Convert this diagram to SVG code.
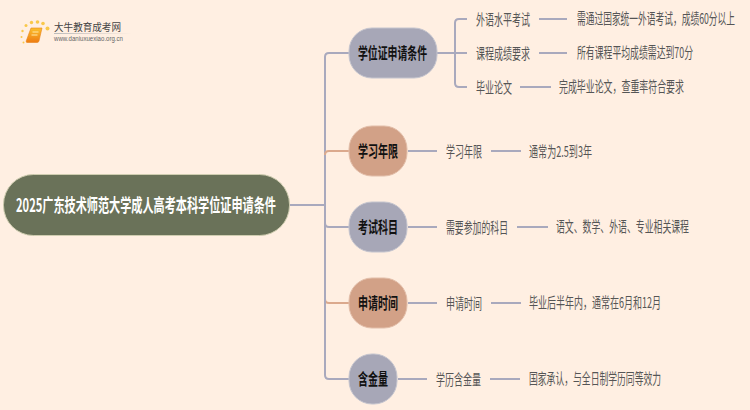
<svg xmlns="http://www.w3.org/2000/svg" width="750" height="410" viewBox="0 0 750 410">
<defs>
<linearGradient id="bk" x1="0" y1="0" x2="0" y2="1"><stop offset="0" stop-color="#FBC02D"/><stop offset="1" stop-color="#EE7B12"/></linearGradient>
<linearGradient id="ul" x1="0" y1="0" x2="1" y2="0"><stop offset="0" stop-color="#bbb"/><stop offset="1" stop-color="#bbb" stop-opacity="0"/></linearGradient>
</defs>
<style>
text{font-family:"Noto Sans CJK SC","Liberation Sans",sans-serif;dominant-baseline:central}
.n{stroke-width:1}
.g{fill:#A7A7B7;stroke:#C4C4CE}
.o{fill:#D2A187;stroke:#E2BDA8}
.t{font-size:16px;font-weight:700;fill:#111}
.l{font-size:15px;fill:#555}
.c{fill:none;stroke:#A9A9BD;stroke-width:2}
.co{fill:none;stroke:#DBA98D;stroke-width:2}
</style>
<rect width="750" height="410" fill="#FFEFE2"/>
<g id="logo">
<g fill="#F9C84A"><circle cx="47.500" cy="28.500" r="2"/><circle cx="43" cy="23.500" r="1.800"/><circle cx="37.500" cy="22" r="1.800"/><circle cx="31.500" cy="22.500" r="1.700"/><circle cx="26" cy="25.500" r="1.500"/><circle cx="22.500" cy="31" r="1.200"/><circle cx="21.500" cy="37" r="1"/><circle cx="23.500" cy="42.500" r="1"/></g>
<path d="M31 28h11l-3 13q-.5 1.500-2 1.500H27q-1 0-.8-1.500z" fill="url(#bk)" stroke="#E8841A" stroke-width=".6"/>
<path d="M32.500 32h6M31.500 35h6" stroke="#FFE9A8" stroke-width="1"/>
<text x="54" y="26.500" font-size="10" fill="#444" textLength="67" lengthAdjust="spacingAndGlyphs">大牛教育成考网</text>
<rect x="54" y="33" width="78" height="1" fill="url(#ul)"/>
<text x="54" y="38.500" font-size="6.500" fill="#666" style="font-family:'Liberation Sans',sans-serif" textLength="69" lengthAdjust="spacingAndGlyphs">www.daniuxuexiao.org.cn</text>
</g>
<g id="connectors">
<path class="c" d="M290 205H325"/>
<path class="c" d="M349 53H329q-4 0-4 4V375q0 4 4 4H349"/>
<path class="co" d="M349 151H329q-4 0-4 4"/>
<path class="c" d="M325 223q0 4 4 4H349"/>
<path class="co" d="M349 303H329q-4 0-4-4" />
<path class="c" d="M325 290V320"/>
<path class="c" d="M437 53H467M467 19H459q-4 0-4 4V83q0 4 4 4H467"/>
<path class="c" d="M539 19H567M539 53H567M520 87H551"/>
<path class="c" d="M408 151H437M491 151H521"/>
<path class="c" d="M408 227H437M517 227H548"/>
<path class="c" d="M408 303H437M491 303H521"/>
<path class="c" d="M398 379H427M490 379H520"/>
</g>
<g id="root"><rect x="3.500" y="174.500" width="286" height="61" rx="30" fill="#6A7259" stroke="#CFCDB0"/>
<text transform="translate(16 204) scale(.619 1)" font-size="18" font-weight="700" fill="#fff" textLength="420" lengthAdjust="spacingAndGlyphs">2025广东技术师范大学成人高考本科学位证申请条件</text></g>
<g id="n1"><rect class="n g" x="349" y="28" width="88" height="50" rx="23"/><text class="t" x="358" y="52" textLength="69" lengthAdjust="spacingAndGlyphs">学位证申请条件</text></g>
<g id="n2"><rect class="n o" x="349" y="126" width="58" height="50" rx="23"/><text class="t" x="358" y="150" textLength="40" lengthAdjust="spacingAndGlyphs">学习年限</text></g>
<g id="n3"><rect class="n g" x="349" y="202" width="58" height="50" rx="23"/><text class="t" x="358" y="226" textLength="40" lengthAdjust="spacingAndGlyphs">考试科目</text></g>
<g id="n4"><rect class="n o" x="349" y="278" width="58" height="50" rx="23"/><text class="t" x="358" y="302" textLength="40" lengthAdjust="spacingAndGlyphs">申请时间</text></g>
<g id="n5"><rect class="n g" x="349" y="354" width="48" height="50" rx="23"/><text class="t" x="358" y="378" textLength="30" lengthAdjust="spacingAndGlyphs">含金量</text></g>
<g id="l1"><text class="l" x="476" y="18" textLength="54" lengthAdjust="spacingAndGlyphs">外语水平考试</text></g>
<g id="l2"><text class="l" x="476" y="52" textLength="54" lengthAdjust="spacingAndGlyphs">课程成绩要求</text></g>
<g id="l3"><text class="l" x="476" y="86" textLength="36" lengthAdjust="spacingAndGlyphs">毕业论文</text></g>
<g id="l4"><text class="l" transform="translate(577 18) scale(.582 1)" textLength="271.500" lengthAdjust="spacingAndGlyphs">需通过国家统一外语考试，成绩60分以上</text></g>
<g id="l5"><text class="l" transform="translate(577 52) scale(.59 1)" textLength="196.600" lengthAdjust="spacingAndGlyphs">所有课程平均成绩需达到70分</text></g>
<g id="l6"><text class="l" transform="translate(559 86) scale(.595 1)" textLength="210" lengthAdjust="spacingAndGlyphs">完成毕业论文，查重率符合要求</text></g>
<g id="l7"><text class="l" x="446" y="150" textLength="36" lengthAdjust="spacingAndGlyphs">学习年限</text></g>
<g id="l8"><text class="l" x="529" y="150" textLength="63" lengthAdjust="spacingAndGlyphs">通常为2.5到3年</text></g>
<g id="l9"><text class="l" x="446" y="226" textLength="62" lengthAdjust="spacingAndGlyphs">需要参加的科目</text></g>
<g id="l10"><text class="l" transform="translate(556 226) scale(.591 1)" textLength="225" lengthAdjust="spacingAndGlyphs">语文、数学、外语、专业相关课程</text></g>
<g id="l11"><text class="l" x="446" y="302" textLength="36" lengthAdjust="spacingAndGlyphs">申请时间</text></g>
<g id="l12"><text class="l" transform="translate(529 302) scale(.6 1)" textLength="220" lengthAdjust="spacingAndGlyphs">毕业后半年内，通常在6月和12月</text></g>
<g id="l13"><text class="l" x="436" y="378" textLength="45" lengthAdjust="spacingAndGlyphs">学历含金量</text></g>
<g id="l14"><text class="l" transform="translate(529 378) scale(.587 1)" textLength="225" lengthAdjust="spacingAndGlyphs">国家承认，与全日制学历同等效力</text></g>
</svg>
